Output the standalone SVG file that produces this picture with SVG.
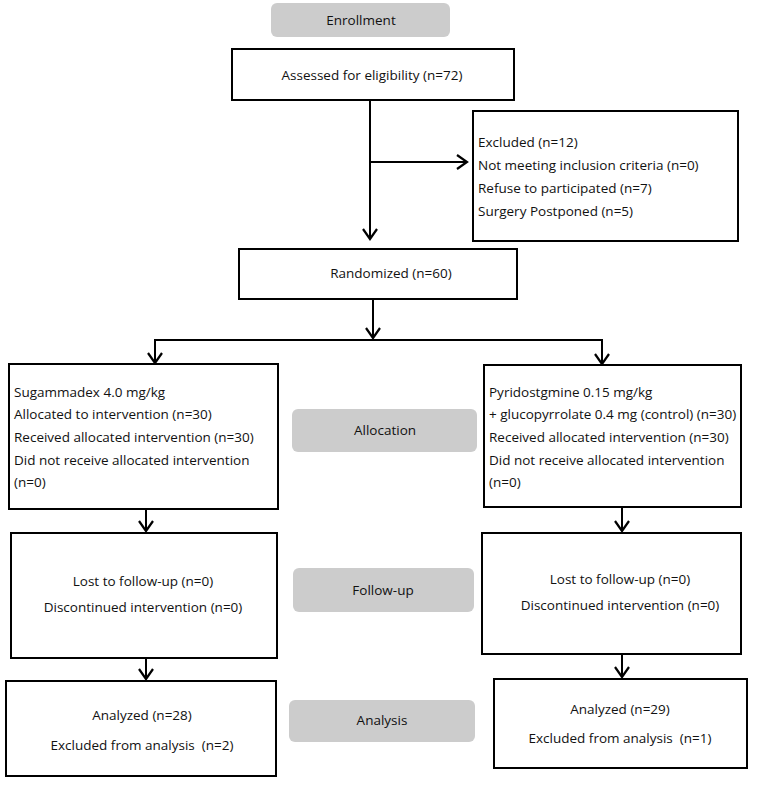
<svg xmlns="http://www.w3.org/2000/svg" width="763" height="785" viewBox="0 0 763 785">
<defs>
<style>
.box{fill:#fff;stroke:#000;stroke-width:2}
.lab{fill:#cccccc;stroke:none}
.t{font-family:"Open Sans","Noto Sans",sans-serif;font-size:13.5px;fill:#111}
.c{text-anchor:middle}
.ln{fill:none;stroke:#000;stroke-width:2}
</style>
<marker id="ah" markerWidth="14" markerHeight="16" refX="11" refY="8" orient="auto" markerUnits="userSpaceOnUse">
<path d="M1,1 L11,8 L1,15" fill="none" stroke="#000" stroke-width="2.2"/>
</marker>
</defs>
<rect width="763" height="785" fill="#fff"/>
<g id="enrollment"><rect class="lab" x="271" y="3" width="179" height="34" rx="6"/><text class="t c" x="361" y="25">Enrollment</text></g>
<g id="assessed"><rect class="box" x="232" y="49" width="282" height="51"/><text class="t c" x="372" y="80">Assessed for eligibility (n=72)</text></g>
<g id="excluded"><rect class="box" x="473" y="111" width="265" height="130"/>
<text class="t" x="478" y="147">Excluded (n=12)</text>
<text class="t" x="478" y="170">Not meeting inclusion criteria (n=0)</text>
<text class="t" x="478" y="193">Refuse to participated (n=7)</text>
<text class="t" x="478" y="216">Surgery Postponed (n=5)</text></g>
<g id="randomized"><rect class="box" x="239" y="249" width="278" height="50"/><text class="t c" x="391" y="278">Randomized (n=60)</text></g>
<g id="allocation"><rect class="lab" x="292" y="409" width="185" height="43" rx="6"/><text class="t c" x="385" y="435">Allocation</text></g>
<g id="alloc-left"><rect class="box" x="9" y="364" width="269" height="145"/>
<text class="t" x="14" y="397">Sugammadex 4.0 mg/kg</text>
<text class="t" x="14" y="419">Allocated to intervention (n=30)</text>
<text class="t" x="14" y="442">Received allocated intervention (n=30)</text>
<text class="t" x="14" y="465">Did not receive allocated intervention</text>
<text class="t" x="14" y="487">(n=0)</text></g>
<g id="alloc-right"><rect class="box" x="484" y="365" width="257" height="142"/>
<text class="t" x="489" y="397">Pyridostgmine 0.15 mg/kg</text>
<text class="t" x="489" y="419">+ glucopyrrolate 0.4 mg (control) (n=30)</text>
<text class="t" x="489" y="442">Received allocated intervention (n=30)</text>
<text class="t" x="489" y="465">Did not receive allocated intervention</text>
<text class="t" x="489" y="487">(n=0)</text></g>
<g id="followup"><rect class="lab" x="293" y="568" width="181" height="44" rx="6"/><text class="t c" x="383" y="595">Follow-up</text></g>
<g id="fu-left"><rect class="box" x="11" y="533" width="266" height="125"/>
<text class="t c" x="143" y="586">Lost to follow-up (n=0)</text>
<text class="t c" x="143" y="612">Discontinued intervention (n=0)</text></g>
<g id="fu-right"><rect class="box" x="482" y="533" width="259" height="121"/>
<text class="t c" x="620" y="584">Lost to follow-up (n=0)</text>
<text class="t c" x="620" y="610">Discontinued intervention (n=0)</text></g>
<g id="analysis"><rect class="lab" x="289" y="700" width="186" height="42" rx="6"/><text class="t c" x="382" y="725">Analysis</text></g>
<g id="an-left"><rect class="box" x="6" y="681" width="270" height="95"/>
<text class="t c" x="142" y="720">Analyzed (n=28)</text>
<text class="t c" x="142" y="750" xml:space="preserve">Excluded from analysis  (n=2)</text></g>
<g id="an-right"><rect class="box" x="494" y="679" width="253" height="89"/>
<text class="t c" x="620" y="714">Analyzed (n=29)</text>
<text class="t c" x="620" y="743" xml:space="preserve">Excluded from analysis  (n=1)</text></g>
<g id="connectors">
<line class="ln" x1="370" y1="100" x2="370" y2="239" marker-end="url(#ah)"/>
<line class="ln" x1="370" y1="162" x2="467" y2="162" marker-end="url(#ah)"/>
<line class="ln" x1="373" y1="299" x2="373" y2="338" marker-end="url(#ah)"/>
<line class="ln" x1="154" y1="340" x2="603" y2="340"/>
<line class="ln" x1="155" y1="340" x2="155" y2="363" marker-end="url(#ah)"/>
<line class="ln" x1="602" y1="340" x2="602" y2="364" marker-end="url(#ah)"/>
<line class="ln" x1="146" y1="509" x2="146" y2="531" marker-end="url(#ah)"/>
<line class="ln" x1="622" y1="507" x2="622" y2="531" marker-end="url(#ah)"/>
<line class="ln" x1="146" y1="658" x2="146" y2="679" marker-end="url(#ah)"/>
<line class="ln" x1="622" y1="654" x2="622" y2="677" marker-end="url(#ah)"/>
</g>
</svg>
